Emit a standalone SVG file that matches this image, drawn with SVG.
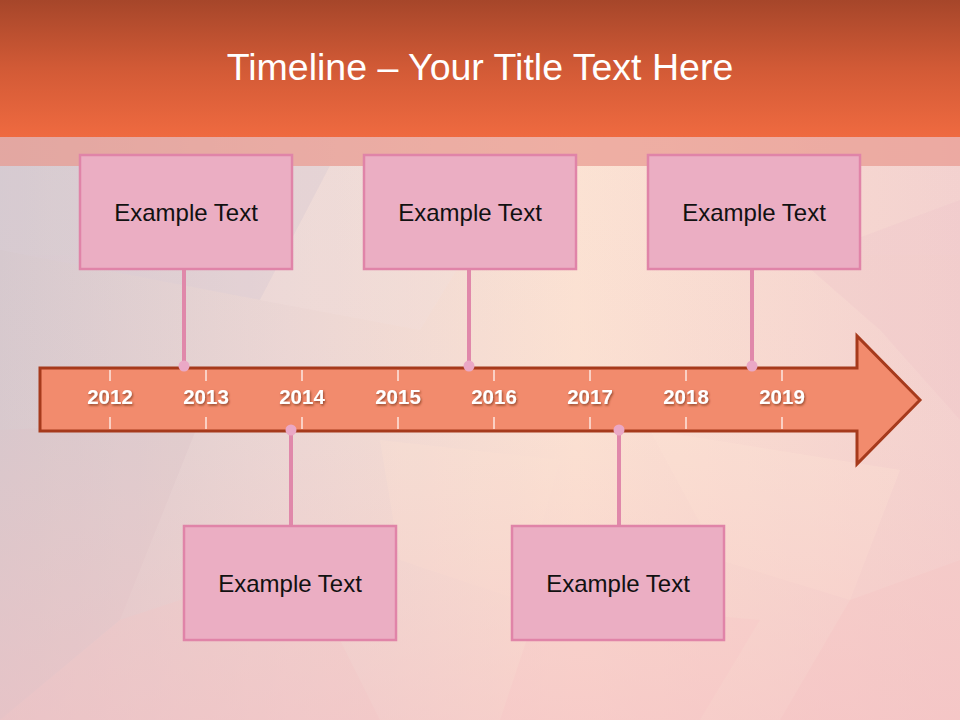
<svg xmlns="http://www.w3.org/2000/svg" width="960" height="720" viewBox="0 0 960 720">
<defs>
<linearGradient id="hdr" x1="0" y1="0" x2="0" y2="1">
<stop offset="0" stop-color="#A6462A"/>
<stop offset="0.5" stop-color="#D25A36"/>
<stop offset="1" stop-color="#EF6A40"/>
</linearGradient>
<linearGradient id="bgh" x1="0" y1="0" x2="1" y2="0">
<stop offset="0" stop-color="#D3C9CF"/>
<stop offset="0.3" stop-color="#EAD8D6"/>
<stop offset="0.6" stop-color="#FCE4D4"/>
<stop offset="1" stop-color="#F3D2D0"/>
</linearGradient>
<linearGradient id="bgv" x1="0" y1="0" x2="0" y2="1">
<stop offset="0" stop-color="#F4C6C4" stop-opacity="0"/>
<stop offset="0.6" stop-color="#F6C8C4" stop-opacity="0.15"/>
<stop offset="1" stop-color="#F5C0C2" stop-opacity="0.55"/>
</linearGradient>
<filter id="sh" x="-20%" y="-20%" width="140%" height="140%">
<feDropShadow dx="1" dy="1.5" stdDeviation="0.8" flood-color="#6B2A18" flood-opacity="0.7"/>
</filter>
<style>
.box{fill:#EBAEC3;stroke:#E084A8;stroke-width:2.5}
.lbl{font-family:"Liberation Sans",Arial,sans-serif;font-size:24px;fill:#111;text-anchor:middle}
.yr{font-family:"Liberation Sans",Arial,sans-serif;font-size:20.5px;font-weight:bold;fill:#FFFFFF;text-anchor:middle}
.tick{stroke:#FFFFFF;stroke-width:1.2}
.con{stroke:#E088AA;stroke-width:4;fill:none}
.dot{fill:#EAA8C6}
.poly{stroke:none}
</style>
</defs>

<!-- background -->
<rect x="0" y="0" width="960" height="720" fill="url(#bgh)"/>
<g class="poly" opacity="0.35">
<polygon points="0,166 330,166 260,300 0,250" fill="#D8CDD8"/>
<polygon points="260,300 330,166 520,166 420,330" fill="#F2E2E0"/>
<polygon points="0,430 200,420 120,620 0,720" fill="#D8C4CA"/>
<polygon points="120,620 300,560 380,720 0,720" fill="#F0C8C8"/>
<polygon points="650,430 900,470 850,600 720,560" fill="#FFE8D8"/>
<polygon points="800,260 960,200 960,420 880,330" fill="#EFC6CA"/>
<polygon points="540,600 760,620 700,720 500,720" fill="#F8CACA"/>
<polygon points="380,440 560,460 520,600 400,560" fill="#FDE6D6"/>
<polygon points="850,600 960,560 960,720 780,720" fill="#F6C4C4"/>
</g>
<rect x="0" y="0" width="960" height="720" fill="url(#bgv)"/>

<!-- header -->
<rect x="0" y="0" width="960" height="137" fill="url(#hdr)"/>
<rect x="0" y="137" width="960" height="29" fill="#E8998E" opacity="0.7"/>
<text x="480" y="80" font-family="'Liberation Sans',Arial,sans-serif" font-size="37.5" fill="#FFFFFF" text-anchor="middle">Timeline – Your Title Text Here</text>

<!-- arrow -->
<g id="timeline">
<polygon points="40,368 857,368 857,336 920,400 857,464 857,431 40,431" fill="#F28B6D" stroke="#A63A1C" stroke-width="3" stroke-linejoin="miter"/>
<g>
<line class="tick" x1="110" y1="370" x2="110" y2="381"/><line class="tick" x1="110" y1="417" x2="110" y2="429"/>
<line class="tick" x1="206" y1="370" x2="206" y2="381"/><line class="tick" x1="206" y1="417" x2="206" y2="429"/>
<line class="tick" x1="302" y1="370" x2="302" y2="381"/><line class="tick" x1="302" y1="417" x2="302" y2="429"/>
<line class="tick" x1="398" y1="370" x2="398" y2="381"/><line class="tick" x1="398" y1="417" x2="398" y2="429"/>
<line class="tick" x1="494" y1="370" x2="494" y2="381"/><line class="tick" x1="494" y1="417" x2="494" y2="429"/>
<line class="tick" x1="590" y1="370" x2="590" y2="381"/><line class="tick" x1="590" y1="417" x2="590" y2="429"/>
<line class="tick" x1="686" y1="370" x2="686" y2="381"/><line class="tick" x1="686" y1="417" x2="686" y2="429"/>
<line class="tick" x1="782" y1="370" x2="782" y2="381"/><line class="tick" x1="782" y1="417" x2="782" y2="429"/>
</g>
<g filter="url(#sh)">
<text class="yr" x="110" y="404">2012</text>
<text class="yr" x="206" y="404">2013</text>
<text class="yr" x="302" y="404">2014</text>
<text class="yr" x="398" y="404">2015</text>
<text class="yr" x="494" y="404">2016</text>
<text class="yr" x="590" y="404">2017</text>
<text class="yr" x="686" y="404">2018</text>
<text class="yr" x="782" y="404">2019</text>
</g>
</g>

<!-- connectors -->
<g id="connectors">
<line class="con" x1="184" y1="270" x2="184" y2="366"/>
<line class="con" x1="469" y1="270" x2="469" y2="366"/>
<line class="con" x1="752" y1="270" x2="752" y2="366"/>
<line class="con" x1="291" y1="430" x2="291" y2="525"/>
<line class="con" x1="619" y1="430" x2="619" y2="525"/>
<circle class="dot" cx="184" cy="366" r="5.5"/>
<circle class="dot" cx="469" cy="366" r="5.5"/>
<circle class="dot" cx="752" cy="366" r="5.5"/>
<circle class="dot" cx="291" cy="430" r="5.5"/>
<circle class="dot" cx="619" cy="430" r="5.5"/>
</g>

<!-- nodes -->
<g id="node1"><rect class="box" x="80" y="155" width="212" height="114"/><text class="lbl" x="186" y="221">Example Text</text></g>
<g id="node2"><rect class="box" x="364" y="155" width="212" height="114"/><text class="lbl" x="470" y="221">Example Text</text></g>
<g id="node3"><rect class="box" x="648" y="155" width="212" height="114"/><text class="lbl" x="754" y="221">Example Text</text></g>
<g id="node4"><rect class="box" x="184" y="526" width="212" height="114"/><text class="lbl" x="290" y="592">Example Text</text></g>
<g id="node5"><rect class="box" x="512" y="526" width="212" height="114"/><text class="lbl" x="618" y="592">Example Text</text></g>
</svg>
